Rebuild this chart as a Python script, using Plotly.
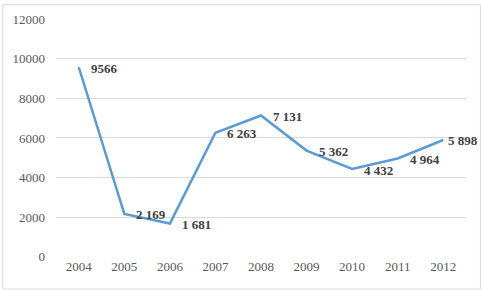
import plotly.graph_objects as go

years = ["2004", "2005", "2006", "2007", "2008", "2009", "2010", "2011", "2012"]
values = [9566, 2169, 1681, 6263, 7131, 5362, 4432, 4964, 5898]
labels = ["9566", "2 169", "1 681", "6 263", "7 131", "5 362", "4 432", "4 964", "5 898"]
y_ticks = [0, 2000, 4000, 6000, 8000, 10000, 12000]

fig = go.Figure()
fig.add_trace(go.Scatter(
    x=years, y=values, mode="lines",
    line=dict(color="#5B9BD5", width=2.5),
    hoverinfo="skip",
))

n = len(values)
annotations = [
    dict(x=i, y=yv, xref="x", yref="y", text="<b>" + t + "</b>", showarrow=False,
         xanchor="left", yanchor="middle", xshift=(3 if i == n - 1 else 10), yshift=-1,
         font=dict(family="Liberation Serif", size=13, color="#404040"))
    for i, (yv, t) in enumerate(zip(values, labels))
]

fig.update_layout(
    width=481, height=290,
    margin=dict(l=54, r=15, t=14, b=33),
    paper_bgcolor="white", plot_bgcolor="white",
    showlegend=False,
    font=dict(family="Liberation Serif", size=13, color="#595959"),
    xaxis=dict(type="category", range=[-0.5, 8.5], showgrid=False, showline=False,
               ticks="", zeroline=False, tickfont=dict(size=13, color="#595959")),
    yaxis=dict(range=[-5, 12050], tickvals=y_ticks, ticktext=[str(v) for v in y_ticks],
               showgrid=True, gridcolor="#D9D9D9", gridwidth=1, zeroline=False,
               showline=False, ticks="", ticklabelstandoff=10,
               tickfont=dict(size=13, color="#595959")),
    annotations=annotations,
    shapes=[dict(type="rect", xref="paper", yref="paper", x0=-53.5/412, x1=1+14.5/412,
                 y0=-32.5/243, y1=1+13.5/243, line=dict(color="#D9D9D9", width=1))],
)

fig.write_html("out.html", config={"displayModeBar": False},
               post_script="document.body.style.margin='0';document.body.style.padding='0';")
